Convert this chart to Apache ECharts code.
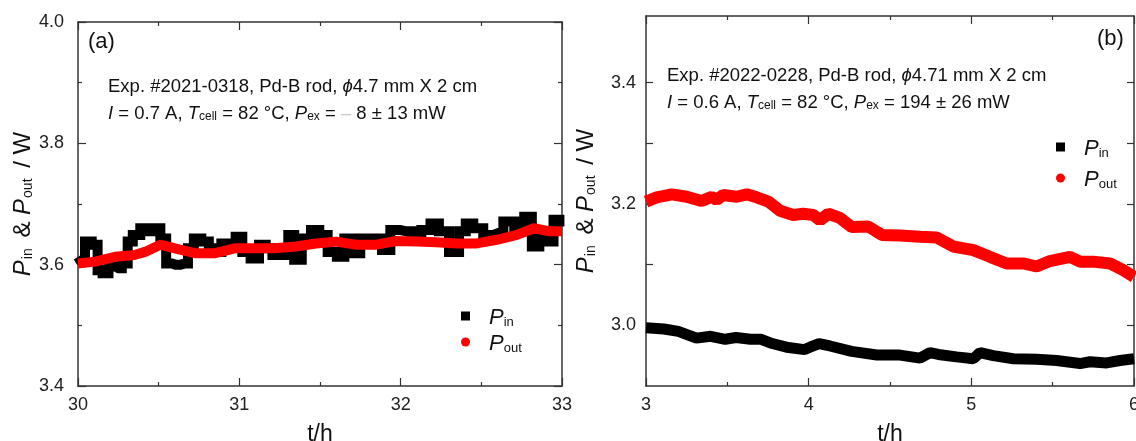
<!DOCTYPE html>
<html><head><meta charset="utf-8">
<script src="https://cdn.jsdelivr.net/npm/echarts@6/dist/echarts.min.js"></script>
<style>html,body{margin:0;padding:0;background:#fff}#c{width:1136px;height:441px}</style>
</head><body><div id="c"></div>
<script>
// ---- data (t/h, W) ----
const pinA = [[30.00,3.613],[30.023,3.608],[30.064,3.638],[30.106,3.633],[30.137,3.591],[30.168,3.586],[30.21,3.597],[30.251,3.594],[30.292,3.602],[30.324,3.638],[30.355,3.649],[30.417,3.660],[30.448,3.655],[30.49,3.660],[30.531,3.643],[30.562,3.602],[30.604,3.600],[30.666,3.602],[30.697,3.627],[30.739,3.643],[30.79,3.638],[30.832,3.627],[30.873,3.621],[30.904,3.635],[30.956,3.630],[30.998,3.646],[31.039,3.621],[31.101,3.610],[31.143,3.633],[31.184,3.627],[31.226,3.616],[31.288,3.616],[31.319,3.649],[31.361,3.608],[31.413,3.643],[31.475,3.657],[31.516,3.649],[31.579,3.621],[31.63,3.613],[31.672,3.643],[31.713,3.619],[31.786,3.643],[31.859,3.643],[31.91,3.624],[31.962,3.657],[32.035,3.655],[32.097,3.649],[32.159,3.657],[32.211,3.668],[32.263,3.655],[32.336,3.621],[32.388,3.655],[32.419,3.668],[32.481,3.660],[32.543,3.649],[32.605,3.652],[32.668,3.671],[32.74,3.657],[32.792,3.679],[32.834,3.630],[32.885,3.643],[32.927,3.638],[32.968,3.674],[33.0,3.663]];
const poutA = [[30.0,3.602],[30.105,3.605],[30.23,3.613],[30.35,3.616],[30.415,3.621],[30.51,3.633],[30.60,3.627],[30.725,3.619],[30.85,3.619],[30.97,3.627],[31.10,3.627],[31.22,3.627],[31.35,3.630],[31.475,3.635],[31.6,3.638],[31.72,3.633],[31.85,3.633],[31.97,3.639],[32.10,3.638],[32.22,3.637],[32.35,3.635],[32.47,3.635],[32.595,3.641],[32.72,3.649],[32.825,3.660],[32.925,3.655],[33.0,3.655]];
const pinB = [[3.0,2.996],[3.11,2.994],[3.199,2.990],[3.31,2.979],[3.398,2.982],[3.487,2.977],[3.553,2.980],[3.642,2.977],[3.708,2.977],[3.776,2.970],[3.864,2.964],[3.975,2.960],[4.008,2.964],[4.064,2.970],[4.131,2.966],[4.264,2.957],[4.419,2.951],[4.561,2.951],[4.684,2.946],[4.746,2.955],[4.797,2.952],[4.909,2.948],[5.012,2.945],[5.053,2.955],[5.135,2.950],[5.258,2.945],[5.401,2.944],[5.524,2.942],[5.668,2.937],[5.729,2.940],[5.832,2.938],[5.914,2.942],[6.0,2.945]];
const poutB = [[3.0,3.204],[3.066,3.211],[3.158,3.216],[3.25,3.212],[3.342,3.205],[3.404,3.212],[3.434,3.207],[3.475,3.215],[3.557,3.212],[3.619,3.216],[3.68,3.211],[3.752,3.204],[3.824,3.189],[3.905,3.182],[3.967,3.184],[4.028,3.182],[4.07,3.173],[4.12,3.184],[4.192,3.177],[4.264,3.162],[4.366,3.163],[4.45,3.149],[4.561,3.148],[4.684,3.146],[4.787,3.145],[4.889,3.130],[5.012,3.124],[5.114,3.113],[5.217,3.102],[5.319,3.102],[5.401,3.097],[5.483,3.106],[5.606,3.113],[5.668,3.105],[5.749,3.105],[5.852,3.102],[5.934,3.091],[6.0,3.080]];
const yLabelsB = [3.0, 3.2, 3.4];
const yTicksB = [3.0, 3.1, 3.2, 3.3, 3.4];

const FONT = 'Liberation Sans, Arial, sans-serif';
const AX = '#333';
const rich = {
  n: {fontSize: 18.5, lineHeight: 22, verticalAlign: 'bottom', fill: '#111', fontFamily: FONT},
  i: {fontSize: 18.5, lineHeight: 22, verticalAlign: 'bottom', fontStyle: 'italic', fill: '#111', fontFamily: FONT},
  s: {fontSize: 12, lineHeight: 6, verticalAlign: 'bottom', fill: '#111', fontFamily: FONT},
  g: {fontSize: 18.5, lineHeight: 22, verticalAlign: 'bottom', fill: '#c8c8c8', fontFamily: FONT}
};
const legRich = {
  i: {fontSize: 22, lineHeight: 26, verticalAlign: 'bottom', fontStyle: 'italic', color: '#111', fontFamily: FONT, padding: [0, 0, 0, 14]},
  s: {fontSize: 13, lineHeight: 8, verticalAlign: 'bottom', color: '#111', fontFamily: FONT}
};
const nameRich = {
  i: {fontSize: 24, lineHeight: 28, verticalAlign: 'bottom', fontStyle: 'italic', color: '#111', fontFamily: FONT},
  n: {fontSize: 24, lineHeight: 28, verticalAlign: 'bottom', color: '#111', fontFamily: FONT},
  s: {fontSize: 14, lineHeight: 8, verticalAlign: 'bottom', color: '#111', fontFamily: FONT, padding: [0, 4, 0, 1]}
};
const yName = '{i|P}{s|in}{n| & }{i|P}{s|out}{n| / W}';

function xAx(grid, min, max, top) {
  return {
    type: 'value', gridIndex: grid, min: min, max: max, interval: 1,
    position: top ? 'top' : 'bottom',
    axisLine: {show: true, onZero: false, lineStyle: {color: AX, width: 1.5}},
    axisTick: {show: true, inside: true, length: 8, lineStyle: {color: AX, width: 1.2}},
    minorTick: {show: true, splitNumber: 2, length: 4, lineStyle: {color: AX, width: 1.2}},
    splitLine: {show: false}, minorSplitLine: {show: false},
    axisLabel: {show: !top, fontSize: 18, color: '#222', fontFamily: FONT, margin: 10},
    name: top ? '' : 't/h', nameLocation: 'middle', nameGap: 37,
    nameTextStyle: {fontSize: 23, color: '#111', fontFamily: FONT}
  };
}

const option = {
  animation: false,
  backgroundColor: '#fff',
  grid: [
    {left: 78, top: 22, right: 574, bottom: 55, outerBoundsMode: 'none', containLabel: false},
    {left: 646, top: 16, right: 2, bottom: 55, outerBoundsMode: 'none', containLabel: false}
  ],
  xAxis: [xAx(0, 30, 33, false), xAx(0, 30, 33, true), xAx(1, 3, 6, false), xAx(1, 3, 6, true)],
  yAxis: [
    {type: 'value', gridIndex: 0, min: 3.4, max: 4.0, interval: 0.2, position: 'left',
     axisLine: {show: true, onZero: false, lineStyle: {color: AX, width: 1.5}},
     axisTick: {show: true, inside: true, length: 8, lineStyle: {color: AX, width: 1.2}},
     minorTick: {show: true, splitNumber: 2, length: 4, lineStyle: {color: AX, width: 1.2}},
     splitLine: {show: false},
     axisLabel: {fontSize: 18, color: '#222', fontFamily: FONT, margin: 14, formatter: v => v.toFixed(1)},
     name: yName, nameLocation: 'middle', nameRotate: 90, nameGap: 42,
     nameTextStyle: {rich: nameRich}},
    {type: 'value', gridIndex: 0, min: 3.4, max: 4.0, interval: 0.2, position: 'right',
     axisLine: {show: true, onZero: false, lineStyle: {color: AX, width: 1.5}},
     axisTick: {show: true, inside: true, length: 8, lineStyle: {color: AX, width: 1.2}},
     minorTick: {show: true, splitNumber: 2, length: 4, lineStyle: {color: AX, width: 1.2}},
     splitLine: {show: false}, axisLabel: {show: false}},
    {type: 'value', gridIndex: 1, min: 2.9, max: 3.51, position: 'left',
     axisLine: {show: true, onZero: false, lineStyle: {color: AX, width: 1.5}},
     axisTick: {show: true, inside: true, length: 7, customValues: yTicksB, lineStyle: {color: AX, width: 1.2}},
     splitLine: {show: false},
     axisLabel: {fontSize: 18, color: '#222', fontFamily: FONT, margin: 10, customValues: yLabelsB, formatter: v => v.toFixed(1)},
     name: yName, nameLocation: 'middle', nameRotate: 90, nameGap: 48,
     nameTextStyle: {rich: nameRich}},
    {type: 'value', gridIndex: 1, min: 2.9, max: 3.51, position: 'right',
     axisLine: {show: true, onZero: false, lineStyle: {color: AX, width: 1.5}},
     axisTick: {show: true, inside: true, length: 7, customValues: yTicksB, lineStyle: {color: AX, width: 1.2}},
     splitLine: {show: false}, axisLabel: {show: false}}
  ],
  legend: [
    {orient: 'vertical', left: 456, top: 302, itemWidth: 9, itemHeight: 9, itemGap: 4,
     data: [{name: 'a_in', icon: 'rect'}, {name: 'a_out', icon: 'circle'}],
     formatter: n => n.endsWith('in') ? '{i|P}{s|in}' : '{i|P}{s|out}',
     textStyle: {rich: legRich}, selectedMode: false},
    {orient: 'vertical', left: 1051, top: 133, itemWidth: 9, itemHeight: 9, itemGap: 9,
     data: [{name: 'b_in', icon: 'rect'}, {name: 'b_out', icon: 'circle'}],
     formatter: n => n.endsWith('in') ? '{i|P}{s|in}' : '{i|P}{s|out}',
     textStyle: {rich: legRich}, selectedMode: false}
  ],
  series: [
    {name: 'a_in', type: 'line', xAxisIndex: 0, yAxisIndex: 0, data: pinA, showSymbol: false, step: 'middle',
     color: '#000', lineStyle: {color: '#000', width: 10, join: 'miter'}, z: 2},
    {name: 'a_out', type: 'line', xAxisIndex: 0, yAxisIndex: 0, data: poutA, showSymbol: false,
     color: '#f00', lineStyle: {color: '#f00', width: 10}, z: 3},
    {name: 'b_in', type: 'line', xAxisIndex: 2, yAxisIndex: 2, data: pinB, showSymbol: false,
     color: '#000', lineStyle: {color: '#000', width: 11}, z: 2},
    {name: 'b_out', type: 'line', xAxisIndex: 2, yAxisIndex: 2, data: poutB, showSymbol: false,
     color: '#f00', lineStyle: {color: '#f00', width: 12}, z: 3}
  ],
  graphic: [
    {type: 'text', left: 88, top: 31, style: {text: '(a)', font: '22px ' + FONT, fill: '#111'}},
    {type: 'text', left: 1097, top: 28, style: {text: '(b)', font: '22px ' + FONT, fill: '#111'}},
    {type: 'text', left: 108, top: 77, style: {text: '{n|Exp. #2021-0318, Pd-B rod, }{i|ϕ}{n|4.7 mm X 2 cm}', rich: rich}},
    {type: 'text', left: 108, top: 104, style: {text: '{i|I}{n| = 0.7 A, }{i|T}{s|cell}{n| = 82 °C, }{i|P}{s|ex}{n| = }{g|–}{n| 8 ± 13 mW}', rich: rich}},
    {type: 'text', left: 667, top: 66, style: {text: '{n|Exp. #2022-0228, Pd-B rod, }{i|ϕ}{n|4.71 mm X 2 cm}', rich: rich}},
    {type: 'text', left: 667, top: 93, style: {text: '{i|I}{n| = 0.6 A, }{i|T}{s|cell}{n| = 82 °C, }{i|P}{s|ex}{n| = 194 ± 26 mW}', rich: rich}}
  ]
};
const chart = echarts.init(document.getElementById('c'), null, {renderer: 'canvas'});
chart.setOption(option);
</script>
</body></html>
